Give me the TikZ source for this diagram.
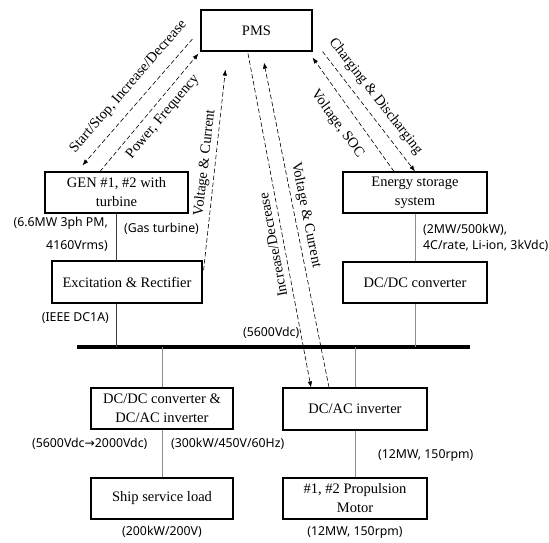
\documentclass[tikz,border=0pt]{standalone}
\usepackage{fontspec}
\setmainfont{Liberation Serif}
\newfontfamily\lblfont{Noto Sans}
\newfontfamily\arrfont{DejaVu Sans}
\usetikzlibrary{arrows.meta}
\begin{document}
\begin{tikzpicture}[x=1pt,y=-1pt,
  box/.style={draw, line width=1.1pt, minimum height=41pt, inner sep=0pt, align=center, font=\fontsize{14.5}{19}\selectfont},
  sig/.style={line width=0.6pt, dash pattern=on 4.5pt off 2.5pt, -{Latex[length=6pt,width=4.5pt]}},
  sigtext/.style={font=\fontsize{14.5}{16}\selectfont, inner sep=0pt},
  val/.style={font=\lblfont\fontsize{12.3}{23}\selectfont, inner sep=0pt},
  wire/.style={line width=0.8pt, black!75},
  gwire/.style={line width=0.8pt, black!45}
]
\useasboundingbox (0,0) rectangle (549,543);
\fill[white] (0,0) rectangle (549,543);

% boxes
\node[box, minimum width=111pt] (pms) at (256.5,30.5) {PMS};
\node[box, minimum width=143pt] (gen) at (116.5,192.5) {GEN \#1, \#2 with\\turbine};
\node[box, minimum width=150pt, minimum height=42pt] (exc) at (127,282) {Excitation \& Rectifier};
\node[box, minimum width=144pt] (ess) at (415,192.5) {Energy storage\\system};
\node[box, minimum width=144pt] (dcdc) at (415,282.5) {DC/DC converter};
\node[box, minimum width=142pt] (inv) at (162,408.5) {DC/DC converter \&\\DC/AC inverter};
\node[box, minimum width=142pt] (ship) at (162,498.5) {Ship service load};
\node[box, minimum width=144pt, minimum height=42pt] (dcac) at (355,409) {DC/AC inverter};
\node[box, minimum width=144pt] (motor) at (355,498.5) {\#1, \#2 Propulsion\\Motor};

% bus
\coordinate (busL) at (77,347);
\coordinate (busR) at (470,347);
\draw[line width=4pt] (busL) -- (busR);

% wires
\draw[wire] (gen.south) -- (gen.south |- exc.north);
\draw[wire] (exc.south -| gen.south) -- (gen.south |- busL);
\draw[gwire] (ess.south) -- (dcdc.north);
\draw[gwire] (dcdc.south) -- (dcdc.south |- busL);
\draw[gwire] (inv.north |- busL) -- (inv.north);
\draw[gwire] (inv.south) -- (ship.north);
\draw[gwire] (dcac.north |- busL) -- (dcac.north);
\draw[gwire] (dcac.south) -- (motor.north);

% signal arrows
\draw[sig] ([xshift=-8pt,yshift=-8.5pt]pms.west) -- ([xshift=38pt,yshift=6pt]gen.north west);
\draw[sig] ([xshift=-16.5pt]gen.north) -- ([xshift=-2pt,yshift=-2pt]pms.south west);
\draw[sig] ([xshift=1pt,yshift=-10pt]exc.north east) -- ([xshift=25pt,yshift=-18pt]pms.south west);
\draw[sig] ([xshift=-8.5pt,yshift=-2pt]pms.south) -- ([xshift=-44pt]dcac.north);
\draw[sig] ([xshift=-26pt]dcac.north) -- ([xshift=7.5pt,yshift=-11pt]pms.south);
\draw[sig] ([xshift=10pt]pms.south east) -- (ess.north);
\draw[sig] ([xshift=-21pt]ess.north) -- ([yshift=-6pt]pms.south east);

% signal labels
\node[sigtext, rotate=49.1] (t1) at (128.5,87) {Start/Stop, Increase/Decrease};
\node[sigtext, rotate=49.8] (t2) at (163,117) {Power, Frequency};
\node[sigtext, rotate=83.5] (t3) at (205,163) {Voltage \& Current};
\node[sigtext, rotate=100.7] (t4) at (273,245) {Increase/Decrease};
\node[sigtext, rotate=-78.7] (t5) at (306,215) {Voltage \& Current};
\node[sigtext, rotate=-52] (t6) at (375.5,96.5) {Charging \& Discharging};
\node[sigtext, rotate=-53.8] (t7) at (337.5,124) {Voltage, SOC};

% value labels
\node[val, anchor=east, align=right] (v1) at (108,234.5) {(6.6MW 3ph PM,\\4160Vrms)};
\node[val, anchor=mid west] (v2) at (124,230) {(Gas turbine)};
\node[val, anchor=mid east] (v3) at (109,319) {(IEEE DC1A)};
\node[val, anchor=mid west] (v4) at (243,334) {(5600Vdc)};
\node[val, anchor=west, align=left, font=\lblfont\fontsize{12.3}{16.5}\selectfont] (v5) at (423,238) {(2MW/500kW),\\4C/rate, Li-ion, 3kVdc)};
\node[val, anchor=mid west] (v6) at (32,445) {(5600Vdc{\arrfont\fontsize{12.3}{23}\selectfont →}2000Vdc)};
\node[val, anchor=mid west] (v7) at (171,445) {(300kW/450V/60Hz)};
\node[val, anchor=mid west] (v8) at (378,456) {(12MW, 150rpm)};
\node[val, anchor=mid] (v9) at (162,533) {(200kW/200V)};
\node[val, anchor=mid] (v10) at (355,533) {(12MW, 150rpm)};
\end{tikzpicture}
\end{document}
